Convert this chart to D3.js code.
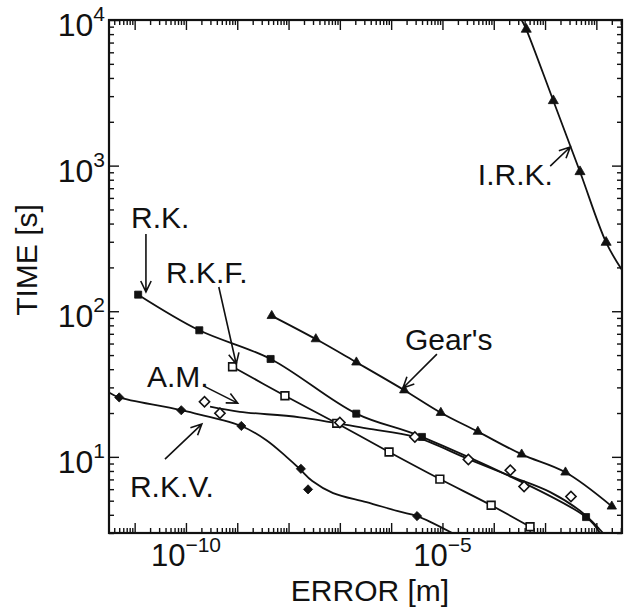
<!DOCTYPE html>
<html>
<head>
<meta charset="utf-8">
<script src="https://cdn.jsdelivr.net/npm/d3@7"></script>
<style>
  body { margin: 0; background: #fff; }
  text { font-family: "Liberation Sans", Arial, Helvetica, sans-serif; fill: #111; }
</style>
</head>
<body>
<script>
// Computing time vs. error for several integrators (log-log).
// Each point is [error in m, time in s].

var rk = [[1.17e-11, 130], [1.82e-10, 74], [4.47e-9, 47], [2.09e-7, 19.8], [3.98e-6, 13.7], [6.3e-3, 3.86]];
var rkTail = [[1.17e-2, 3.0]];

var rkf = [[8.1e-10, 41.6], [8.5e-9, 26.3], [8.7e-8, 17.0], [9.1e-7, 10.8], [8.9e-6, 7.04], [8.9e-5, 4.65], [5.1e-4, 3.31]];

var gear = [[4.7e-9, 93], [3.4e-8, 64.4], [2.1e-7, 44.6], [1.8e-6, 28.7], [9.3e-6, 20.1], [4.9e-5, 14.9], [3.5e-4, 10.4], [2.5e-3, 7.83], [2.0e-2, 4.57]];

var am = [[2.3e-10, 23.9], [4.6e-10, 19.9], [1.0e-7, 17.2], [2.9e-6, 13.7], [3.2e-5, 9.6], [2.1e-4, 8.1], [3.9e-4, 6.25], [3.2e-3, 5.35]];
// the A.M. curve is a smooth fit, it does not go through every marker
var amFit = [[2.95e-10, 22.1], [1.12e-9, 20.4], [1.66e-8, 18.7], [3.3e-7, 15.7], [2.9e-6, 13.7], [3.2e-5, 9.66], [2.1e-4, 7.38], [1.26e-3, 5.73], [5.5e-3, 4.11], [1.35e-2, 3.0]];

var rkv = [[5.0e-12, 25.6], [8.1e-11, 20.9], [1.2e-9, 16.3], [1.74e-8, 8.28], [2.4e-8, 5.98], [3.2e-6, 3.92]];
var rkvFit = [[3.16e-12, 27.7], [5.0e-12, 25.6], [8.1e-11, 20.9], [1.2e-9, 16.3], [3.7e-9, 13.0], [9.1e-9, 10.0], [1.66e-8, 8.25], [2.9e-8, 6.82], [7.4e-8, 5.64], [3.3e-7, 4.89], [1.48e-6, 4.20], [3.2e-6, 3.92], [1.55e-5, 3.0]];

var irk = [[4.3e-4, 8630], [1.45e-3, 2790], [4.8e-3, 908], [1.55e-2, 297]];
var irkHead = [[3.5e-4, 10000]];
var irkTail = [[3.16e-2, 192]];

var xTickExp = [-10, -5];
var yTickExp = [1, 2, 3, 4];

// labels with their arrows, in data units
var notes = [
  { text: "R.K.",   at: [8.5e-12, 372],  from: [1.66e-11, 339], to: [1.66e-11, 136] },
  { text: "R.K.F.", at: [4.07e-11, 156], from: [4.37e-10, 146.6], to: [9.55e-10, 43.4] },
  { text: "A.M.",   at: [1.74e-11, 30.1], from: [2.24e-10, 30.6], to: [1.02e-9, 23.4] },
  { text: "R.K.V.", at: [8.1e-12, 5.30], from: [3.9e-11, 9.66], to: [2.04e-10, 16.8] },
  { text: "Gear's", at: [1.86e-6, 54.2], from: [7.8e-6, 50.8], to: [1.7e-6, 29.7] },
  { text: "I.R.K.", at: [4.9e-5, 736],   from: [1.26e-3, 993], to: [3.1e-3, 1343] }
];

var pLeft = 109, pTop = 20, pRight = 622, pBottom = 533;
var ink = "#111";

var svg = d3.select("body").append("svg")
  .attr("width", 632)
  .attr("height", 614);

var x = d3.scaleLog().domain([Math.pow(10, -11.5), Math.pow(10, -1.5)]).range([pLeft, pRight]);
var y = d3.scaleLog().domain([3, 1e4]).range([pBottom, pTop]);

function logTicks(dom, major) {
  var out = [];
  var e0 = Math.floor(Math.log10(dom[0])), e1 = Math.ceil(Math.log10(dom[1]));
  for (var e = e0; e <= e1; e++) {
    for (var k = 1; k < 10; k++) {
      var v = k * Math.pow(10, e);
      if (v >= dom[0] * 0.9999 && v <= dom[1] * 1.0001 && (k === 1) === major) out.push(v);
    }
  }
  return out;
}

svg.append("clipPath").attr("id", "plot")
  .append("rect")
  .attr("x", pLeft).attr("y", pTop)
  .attr("width", pRight - pLeft).attr("height", pBottom - pTop);

// ticks on all four sides, pointing in
function ticks(axis, tx, ty, size, major, scale) {
  var g = svg.append("g")
    .attr("transform", "translate(" + tx + "," + ty + ")")
    .call(axis(scale).tickValues(logTicks(scale.domain(), major)).tickSizeInner(-size).tickSizeOuter(0).tickFormat(""));
  g.select(".domain").remove();
  g.selectAll("line").attr("stroke", ink).attr("stroke-width", 1.4);
}
[true, false].forEach(function (m) {
  var s = m ? 10 : 5;
  ticks(d3.axisBottom, 0, pBottom, s, m, x);
  ticks(d3.axisTop, 0, pTop, s, m, x);
  ticks(d3.axisLeft, pLeft, 0, s, m, y);
  ticks(d3.axisRight, pRight, 0, s, m, y);
});

svg.append("rect")
  .attr("x", pLeft).attr("y", pTop)
  .attr("width", pRight - pLeft).attr("height", pBottom - pTop)
  .attr("fill", "none")
  .attr("stroke", ink)
  .attr("stroke-width", 2.2);

// tick labels
xTickExp.forEach(function (e) {
  var t = svg.append("text")
    .attr("x", x(Math.pow(10, e)))
    .attr("y", 566)
    .attr("text-anchor", "middle")
    .attr("font-size", 31)
    .text("10");
  t.append("tspan").attr("dy", -14).attr("font-size", 21).text("\u2212" + Math.abs(e));
});
yTickExp.forEach(function (e) {
  var t = svg.append("text")
    .attr("x", 105)
    .attr("y", y(Math.pow(10, e)) + 16)
    .attr("text-anchor", "end")
    .attr("font-size", 32)
    .text("10");
  t.append("tspan").attr("dy", -15).attr("font-size", 21).text(e);
});

svg.append("text")
  .attr("x", 370).attr("y", 601)
  .attr("text-anchor", "middle")
  .attr("font-size", 30)
  .text("ERROR [m]");
svg.append("text")
  .attr("transform", "translate(37,260) rotate(-90)")
  .attr("text-anchor", "middle")
  .attr("font-size", 30)
  .text("TIME [s]");

// curves
var line = d3.line()
  .x(function (d) { return x(d[0]); })
  .y(function (d) { return y(d[1]); })
  .curve(d3.curveCatmullRom.alpha(0.5));

var curves = [rk.concat(rkTail), rkf, gear, amFit, rkvFit, irkHead.concat(irk, irkTail)];
svg.append("g").attr("clip-path", "url(#plot)")
  .selectAll("path")
  .data(curves)
  .enter()
  .append("path")
  .attr("d", line)
  .attr("fill", "none")
  .attr("stroke", ink)
  .attr("stroke-width", 1.8);

// markers
function markers(data, type, size, filled, rot) {
  svg.append("g")
    .selectAll("path")
    .data(data)
    .enter()
    .append("path")
    .attr("d", d3.symbol(type, size))
    .attr("transform", function (d) {
      return "translate(" + x(d[0]) + "," + y(d[1]) + ") rotate(" + rot + ")";
    })
    .attr("fill", filled ? ink : "#fff")
    .attr("stroke", ink)
    .attr("stroke-width", filled ? 0.8 : 1.6);
}
markers(rk, d3.symbolSquare, 50, true, 0);
markers(rkf, d3.symbolSquare, 60, false, 0);
markers(gear, d3.symbolTriangle, 38, true, 0);
markers(irk, d3.symbolTriangle, 44, true, 0);
markers(am, d3.symbolSquare, 52, false, 45);
markers(rkv, d3.symbolSquare, 42, true, 45);

// labels and arrows
notes.forEach(function (n) {
  svg.append("text")
    .attr("x", x(n.at[0]))
    .attr("y", y(n.at[1]))
    .attr("font-size", 30)
    .text(n.text);
  var x1 = x(n.from[0]), y1 = y(n.from[1]), x2 = x(n.to[0]), y2 = y(n.to[1]);
  var a = Math.atan2(y2 - y1, x2 - x1), len = 12, spread = 0.45;
  var path = d3.path();
  path.moveTo(x1, y1);
  path.lineTo(x2, y2);
  path.moveTo(x2 - len * Math.cos(a - spread), y2 - len * Math.sin(a - spread));
  path.lineTo(x2, y2);
  path.lineTo(x2 - len * Math.cos(a + spread), y2 - len * Math.sin(a + spread));
  svg.append("path")
    .attr("d", path.toString())
    .attr("fill", "none")
    .attr("stroke", ink)
    .attr("stroke-width", 1.6);
});
</script>
</body>
</html>
